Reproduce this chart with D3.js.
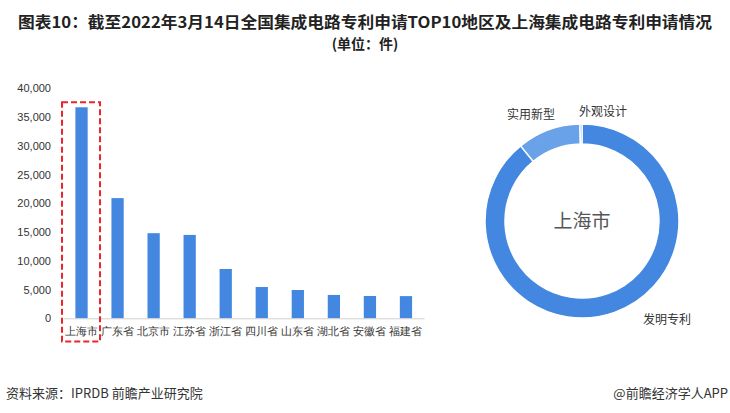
<!DOCTYPE html>
<html><head><meta charset="utf-8">
<script src="https://cdn.jsdelivr.net/npm/d3@7"></script>
<style>body{margin:0;background:#fff}svg{display:block;font-family:"Noto Sans CJK SC","Noto Sans",sans-serif}</style>
</head><body>
<svg id="c" width="730" height="413"></svg>
<script>
const regions = ["上海市","广东省","北京市","江苏省","浙江省","四川省","山东省","湖北省","安徽省","福建省"];
const applications = [36700,20900,14800,14500,8580,5440,4920,4060,3880,3860];
const yTicks = [0,5000,10000,15000,20000,25000,30000,35000,40000];
const patentTypes = ["发明专利","实用新型","外观设计"];
const shanghaiValues = [32700,3880,120];
const titleLines = ["图表10：截至2022年3月14日全国集成电路专利申请TOP10地区及上海集成电路专利申请情况","(单位：件)"];

const svg = d3.select("#c");
const blue = "#4387e1";

// title
svg.append("text").attr("x",365).attr("y",28).attr("text-anchor","middle")
  .attr("font-size",15.5).attr("font-weight","bold").attr("fill","#222")
  .attr("textLength",694).attr("lengthAdjust","spacingAndGlyphs").text(titleLines[0]);
svg.append("text").attr("x",365).attr("y",49).attr("text-anchor","middle")
  .attr("font-size",14).attr("font-weight","bold").attr("fill","#222").text(titleLines[1]);

// bar chart
const x = d3.scaleBand().domain(regions).range([63.5,424]).paddingInner(0.66).paddingOuter(0.33);
const y = d3.scaleLinear().domain([0,40000]).range([318.3,88.3]);

const yAxis = svg.append("g").attr("transform","translate(51,0)")
  .call(d3.axisLeft(y).tickValues(yTicks).tickSize(0).tickPadding(0).tickFormat(d3.format(",")));
yAxis.select(".domain").remove();
yAxis.selectAll("text").attr("font-size",11).attr("fill","#333").attr("font-family","Liberation Sans, Arial, sans-serif");

svg.selectAll("rect.bar").data(applications).join("rect").attr("class","bar")
  .attr("x",(d,i)=>x(regions[i])).attr("width",x.bandwidth())
  .attr("y",d=>y(d)).attr("height",d=>y(0)-y(d)).attr("fill",blue);

const xAxis = svg.append("g").attr("transform",`translate(0,${y(0)})`)
  .call(d3.axisBottom(x).tickSize(0).tickPadding(9));
xAxis.select(".domain").attr("stroke","#d0d0d0");
xAxis.selectAll("text").attr("font-size",11).attr("fill","#333");

// red dashed highlight box
const b0 = x(regions[0]) + x.bandwidth()/2;
svg.append("rect").attr("x",b0-19.5).attr("y",y(applications[0])-5)
  .attr("width",38).attr("height",341.5-(y(applications[0])-5))
  .attr("fill","none").attr("stroke","#e8262b").attr("stroke-width",2).attr("stroke-dasharray","6,3");

// donut
const cx=582, cy=221;
const pie = d3.pie().sort(null).value(d=>d);
const arcs = pie(shanghaiValues);
const arc = d3.arc().innerRadius(77).outerRadius(97);
const donutColors = [blue,"#6aa2ea",blue];
const g = svg.append("g").attr("transform",`translate(${cx},${cy})`);
g.selectAll("path").data(arcs).join("path").attr("d",arc)
  .attr("fill",(d,i)=>donutColors[i]).attr("stroke","#fff").attr("stroke-width",1.5);
g.append("text").attr("text-anchor","middle").attr("y",7).attr("font-size",19).attr("fill","#555").text("上海市");

const labelPos = [[667,324],[531,119],[603,116]];
svg.selectAll("text.pl").data(patentTypes).join("text").attr("class","pl")
  .attr("x",(d,i)=>labelPos[i][0]).attr("y",(d,i)=>labelPos[i][1])
  .attr("text-anchor","middle").attr("font-size",12).attr("fill","#333").text(d=>d);

// footer
svg.append("text").attr("x",6).attr("y",398).attr("font-size",13).attr("fill","#333").text("资料来源：IPRDB 前瞻产业研究院");
svg.append("text").attr("x",728).attr("y",398).attr("text-anchor","end").attr("font-size",13).attr("fill","#333").text("@前瞻经济学人APP");
</script>
</body></html>
